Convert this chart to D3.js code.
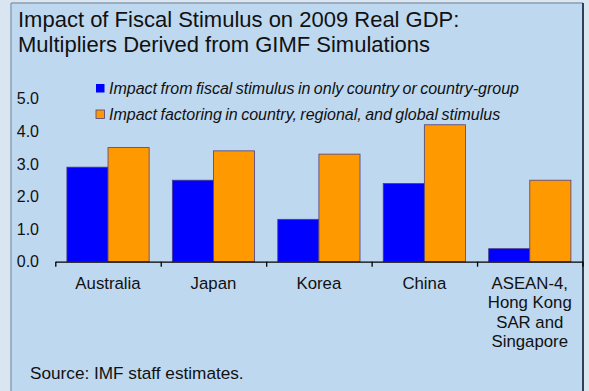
<!DOCTYPE html>
<html>
<head>
<meta charset="utf-8">
<title>Fiscal stimulus multipliers</title>
<script src="https://d3js.org/d3.v7.min.js"></script>
<style>
  body { margin: 0; background: #d9e5f1; }
  svg { display: block; font-family: "Liberation Sans", Arial, sans-serif; }
</style>
</head>
<body>
<div id="chart"></div>
<script>
// data
const categories = ["Australia", "Japan", "Korea", "China", "ASEAN-4, Hong Kong SAR and Singapore"];
const categoryLines = [["Australia"], ["Japan"], ["Korea"], ["China"], ["ASEAN-4,", "Hong Kong", "SAR and", "Singapore"]];
const ownStimulus = [2.9, 2.5, 1.3, 2.4, 0.4];
const globalStimulus = [3.5, 3.4, 3.3, 4.2, 2.5];
const seriesNames = [
  "Impact from fiscal stimulus in only country or country-group",
  "Impact factoring in country, regional, and global stimulus"
];
const seriesColors = ["#0000ff", "#ff9900"];
const yTicks = [0, 1, 2, 3, 4, 5];

const W = 589, H = 391;
const svg = d3.select("#chart").append("svg")
    .attr("width", W).attr("height", H);

svg.append("rect").attr("width", W).attr("height", H).attr("fill", "#d9e5f1");

// panel
svg.append("rect")
    .attr("x", 11).attr("y", 3).attr("width", 572).attr("height", H)
    .attr("fill", "#bed8f0");
svg.append("line").attr("x1", 11).attr("x2", 11).attr("y1", 3).attr("y2", H)
    .attr("stroke", "#8c9fb4").attr("stroke-width", 1.5);
svg.append("line").attr("x1", 11).attr("x2", 583).attr("y1", 3).attr("y2", 3)
    .attr("stroke", "#8c9cae").attr("stroke-width", 1.5);
svg.append("line").attr("x1", 583).attr("x2", 583).attr("y1", 3).attr("y2", H)
    .attr("stroke", "#2e4057").attr("stroke-width", 2);

// title
const title = svg.append("text").attr("x", 18).attr("y", 27)
    .attr("font-size", 22).attr("fill", "#111");
title.append("tspan").attr("x", 18).text("Impact of Fiscal Stimulus on 2009 Real GDP:");
title.append("tspan").attr("x", 18).attr("dy", 25).text("Multipliers Derived from GIMF Simulations");

// scales
const x0 = d3.scaleBand()
    .domain(categories)
    .range([55.3, 582.5])
    .paddingInner(0.22)
    .paddingOuter(0.11);

const x1 = d3.scaleBand()
    .domain([0, 1])
    .range([0, x0.bandwidth()]);

const y = d3.scaleLinear().domain([0, 5]).range([261.7, 98.7]);

// bars
const rows = categories.map((c, i) => ({ cat: c, vals: [ownStimulus[i], globalStimulus[i]] }));

const groups = svg.selectAll("g.cat")
    .data(rows)
    .enter().append("g")
    .attr("class", "cat")
    .attr("transform", d => "translate(" + x0(d.cat) + ",0)");

groups.selectAll("rect")
    .data(d => d.vals.map((v, k) => ({ k: k, v: v })))
    .enter().append("rect")
    .attr("x", d => x1(d.k))
    .attr("y", d => y(d.v))
    .attr("width", x1.bandwidth())
    .attr("height", d => y(0) - y(d.v))
    .attr("fill", d => seriesColors[d.k])
    .attr("stroke", "#4e3f86")
    .attr("stroke-width", 0.8);

// y axis: labels only
const yAxis = d3.axisLeft(y)
    .tickValues(yTicks)
    .tickFormat(d3.format(".1f"))
    .tickSize(0)
    .tickPadding(0);

const gy = svg.append("g")
    .attr("transform", "translate(39,0)")
    .call(yAxis);
gy.select(".domain").remove();
gy.selectAll("text")
    .attr("font-family", "Liberation Sans, Arial, sans-serif")
    .attr("font-size", 16).attr("fill", "#111");

// x axis
const xAxisScale = d3.scaleLinear().domain([0, categories.length]).range([55.3, 582.5]);
const gx = svg.append("g")
    .attr("transform", "translate(0," + y(0) + ")")
    .call(d3.axisBottom(xAxisScale)
        .tickValues(d3.range(categories.length + 1))
        .tickFormat("")
        .tickSize(5)
        .tickSizeOuter(0));
gx.selectAll("line, path").attr("stroke", "#000").attr("stroke-width", 1.3);

// category labels
svg.selectAll("text.cat")
    .data(categories)
    .enter().append("text")
    .attr("class", "cat")
    .attr("text-anchor", "middle")
    .attr("font-size", 16.8)
    .attr("fill", "#111")
    .each(function(d, i) {
        const t = d3.select(this);
        const cx = x0(d) + x0.bandwidth() / 2;
        categoryLines[i].forEach((line, j) => {
            t.append("tspan").attr("x", cx).attr("y", 289 + j * 19.3).text(line);
        });
    });

// legend
const legend = svg.selectAll("g.legend")
    .data(seriesNames)
    .enter().append("g")
    .attr("class", "legend")
    .attr("transform", (d, i) => "translate(96," + (84 + i * 26) + ")");

legend.append("rect")
    .attr("width", 8.5).attr("height", 8.5)
    .attr("fill", (d, i) => seriesColors[i])
    .attr("stroke", (d, i) => i === 1 ? "#4e3f86" : "none")
    .attr("stroke-width", 0.8);

legend.append("text")
    .attr("x", 13).attr("y", 9.5)
    .attr("font-size", 16)
    .attr("font-style", "italic")
    .attr("word-spacing", -1)
    .attr("fill", "#111")
    .text(d => d);

// source
svg.append("text")
    .attr("x", 30).attr("y", 379)
    .attr("font-size", 17.2)
    .attr("fill", "#111")
    .text("Source: IMF staff estimates.");
</script>
</body>
</html>
